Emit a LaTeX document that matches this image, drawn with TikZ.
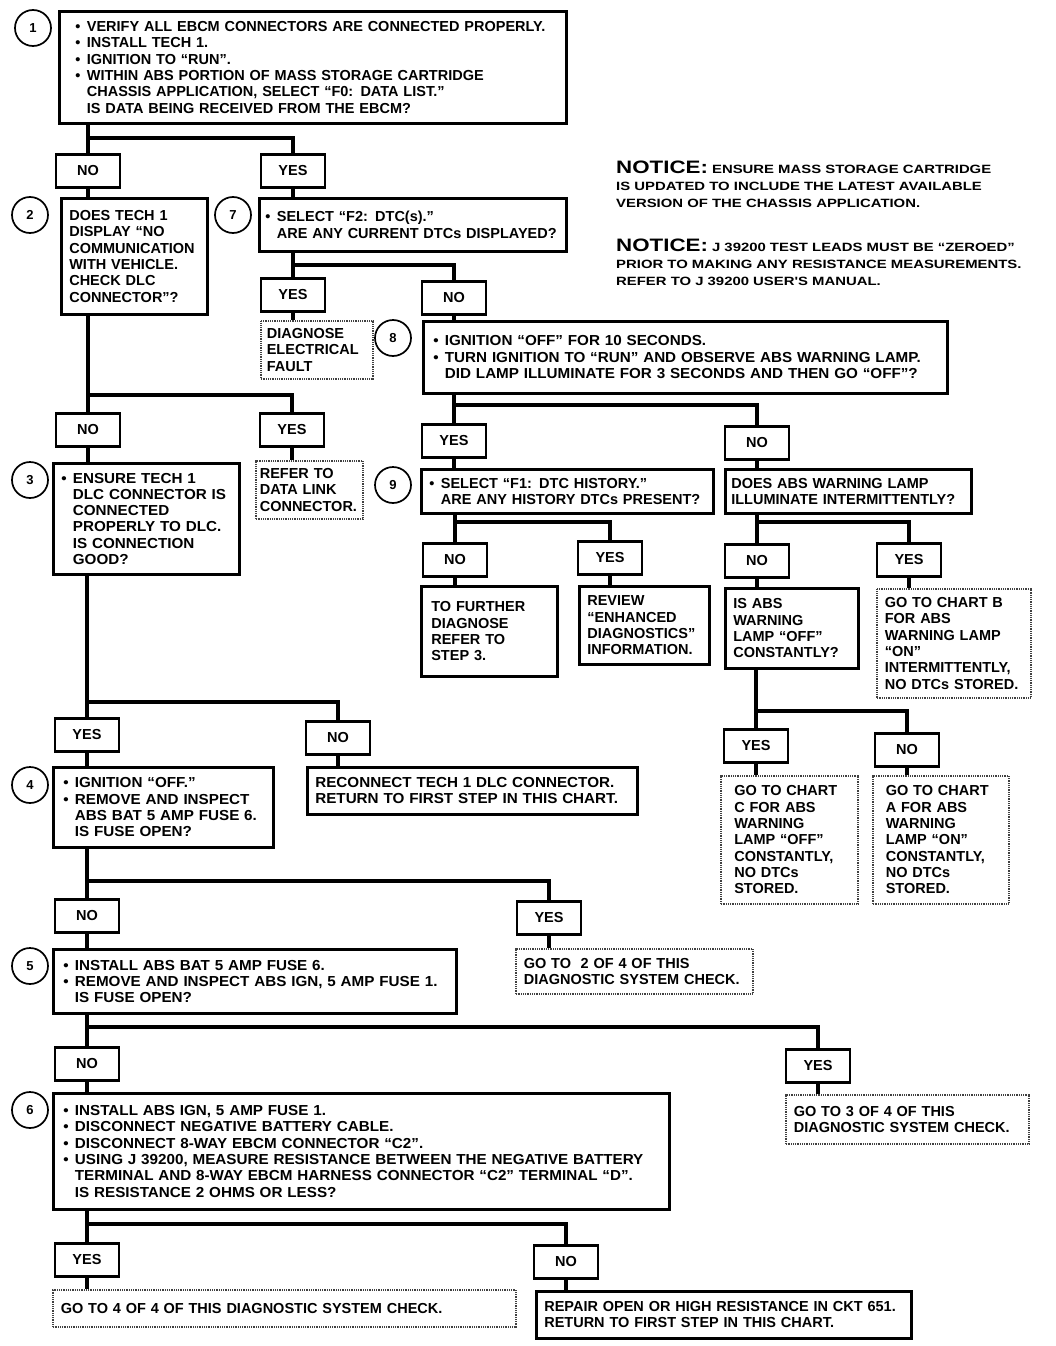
\documentclass[tikz,border=0pt]{standalone}
\usepackage{fontspec}
\setmainfont{Liberation Sans}
\newfontfamily\widefont{Liberation Sans}[FakeStretch=1.24]
\newfontfamily\widebody{Liberation Sans}[FakeStretch=1.05]
\usepackage{tikz}
\newcommand\itm{\makebox[0.8em][l]{•}}
\newcommand\cont{\hspace*{0.8em}}

\begin{document}
\begin{tikzpicture}[x=1pt, y=-1pt,
    stepbox/.style={draw, line width=2.6pt, fill=white, anchor=north west, align=left,
      inner xsep=8pt, inner ysep=3pt, font=\fontsize{14.5}{16.3}\selectfont\bfseries},
    widebox/.style={stepbox, font=\widebody\fontsize{14.5}{16.3}\selectfont\bfseries},
    resbox/.style={stepbox, line width=1.6pt, draw=black!75, dash pattern=on 1pt off 0.8pt},
    answer/.style={draw, line width=2.6pt, fill=white, anchor=north, minimum width=64pt,
      minimum height=33pt, inner sep=0pt, font=\fontsize{14.5}{16}\selectfont\bfseries},
    stepnum/.style={draw, circle, line width=1.7pt, minimum size=36pt, inner sep=0pt,
      font=\fontsize{13}{13}\selectfont\bfseries},
    conn/.style={line width=4.6pt}]
  \useasboundingbox (0,0) rectangle (1056,1346);

  % step numbers
  \node[stepnum] (c1) at (33,28) {1};
  \node[stepnum] (c2) at (30,215) {2};
  \node[stepnum] (c7) at (233,215) {7};
  \node[stepnum] (c8) at (393,338) {8};
  \node[stepnum] (c9) at (393,485) {9};
  \node[stepnum] (c3) at (30,480) {3};
  \node[stepnum] (c4) at (30,785) {4};
  \node[stepnum] (c5) at (30,966) {5};
  \node[stepnum] (c6) at (30,1110) {6};

  % notices
  \node[anchor=north west, align=left, inner sep=0pt, font=\widefont\fontsize{12}{17}\selectfont\bfseries] (note1) at (616,161)
    {{\fontsize{18}{17}\selectfont NOTICE:} ENSURE MASS STORAGE CARTRIDGE\\
     IS UPDATED TO INCLUDE THE LATEST AVAILABLE\\
     VERSION OF THE CHASSIS APPLICATION.};
  \node[anchor=north west, align=left, inner sep=0pt, font=\widefont\fontsize{12}{17}\selectfont\bfseries] (note2) at (616,239)
    {{\fontsize{18}{17}\selectfont NOTICE:} J 39200 TEST LEADS MUST BE “ZEROED”\\
     PRIOR TO MAKING ANY RESISTANCE MEASUREMENTS.\\
     REFER TO J 39200 USER'S MANUAL.};

  % question boxes
  \node[stepbox, inner xsep=16pt, text width=475pt, minimum height=112pt] (s1) at (58,10)
    {\itm VERIFY ALL EBCM CONNECTORS ARE CONNECTED PROPERLY.\\
     \itm INSTALL TECH 1.\\
     \itm IGNITION TO “RUN”.\\
     \itm WITHIN ABS PORTION OF MASS STORAGE CARTRIDGE\\
     \cont CHASSIS APPLICATION, SELECT “F0: DATA LIST.”\\
     \cont IS DATA BEING RECEIVED FROM THE EBCM?};
  \node[stepbox, text width=130pt, minimum height=116pt] (s2) at (60,197)
    {DOES TECH 1\\ DISPLAY “NO\\ COMMUNICATION\\ WITH VEHICLE.\\ CHECK DLC\\ CONNECTOR”?};
  \node[stepbox, inner xsep=6pt, text width=295pt, minimum height=53pt] (s7) at (258,197)
    {\itm SELECT “F2: DTC(s).”\\ \cont ARE ANY CURRENT DTCs DISPLAYED?};
  \node[widebox, inner xsep=10pt, text width=504pt, minimum height=72pt] (s8) at (422,320)
    {\itm IGNITION “OFF” FOR 10 SECONDS.\\
     \itm TURN IGNITION TO “RUN” AND OBSERVE ABS WARNING LAMP.\\
     \cont DID LAMP ILLUMINATE FOR 3 SECONDS AND THEN GO “OFF”?};
  \node[stepbox, text width=276pt, minimum height=44pt] (s9) at (420,468)
    {\itm SELECT “F1: DTC HISTORY.”\\ \cont ARE ANY HISTORY DTCs PRESENT?};
  \node[stepbox, inner xsep=6pt, text width=234pt, minimum height=44pt] (s9b) at (724,468)
    {DOES ABS WARNING LAMP\\ ILLUMINATE INTERMITTENTLY?};
  \node[stepbox, text width=117pt, minimum height=80pt] (s10) at (724,587)
    {IS ABS\\ WARNING\\ LAMP “OFF”\\ CONSTANTLY?};
  \node[widebox, text width=170pt, minimum height=111pt] (s3) at (52,462)
    {\itm ENSURE TECH 1\\ \cont DLC CONNECTOR IS\\ \cont CONNECTED\\ \cont PROPERLY TO DLC.\\
     \cont IS CONNECTION\\ \cont GOOD?};
  \node[widebox, inner xsep=10pt, text width=200pt, minimum height=80pt] (s4) at (52,766)
    {\itm IGNITION “OFF.”\\ \itm REMOVE AND INSPECT\\ \cont ABS BAT 5 AMP FUSE 6.\\
     \cont IS FUSE OPEN?};
  \node[widebox, inner xsep=10pt, text width=383pt, minimum height=64pt] (s5) at (52,948)
    {\itm INSTALL ABS BAT 5 AMP FUSE 6.\\
     \itm REMOVE AND INSPECT ABS IGN, 5 AMP FUSE 1.\\
     \cont IS FUSE OPEN?};
  \node[widebox, inner xsep=10pt, text width=596pt, minimum height=116pt] (s6) at (52,1092)
    {\itm INSTALL ABS IGN, 5 AMP FUSE 1.\\
     \itm DISCONNECT NEGATIVE BATTERY CABLE.\\
     \itm DISCONNECT 8-WAY EBCM CONNECTOR “C2”.\\
     \itm USING J 39200, MEASURE RESISTANCE BETWEEN THE NEGATIVE BATTERY\\
     \cont TERMINAL AND 8-WAY EBCM HARNESS CONNECTOR “C2” TERMINAL “D”.\\
     \cont IS RESISTANCE 2 OHMS OR LESS?};

  % end boxes
  \node[resbox, inner xsep=6pt, text width=100pt, minimum height=58pt] (r7) at (260,320)
    {DIAGNOSE\\ ELECTRICAL\\ FAULT};
  \node[resbox, inner xsep=4pt, text width=99pt, minimum height=58pt] (r2) at (255,460)
    {REFER TO\\ DATA LINK\\ CONNECTOR.};
  \node[stepbox, inner xsep=10pt, text width=116pt, minimum height=90pt] (r9no) at (420,585)
    {TO FURTHER\\ DIAGNOSE\\ REFER TO\\ STEP 3.};
  \node[stepbox, text width=114pt, minimum height=78pt] (r9yes) at (578,585)
    {REVIEW\\ “ENHANCED\\ DIAGNOSTICS”\\ INFORMATION.};
  \node[resbox, text width=138pt, minimum height=109pt] (r10) at (876,588)
    {GO TO CHART B\\ FOR ABS\\ WARNING LAMP\\ “ON”\\ INTERMITTENTLY,\\ NO DTCs STORED.};
  \node[resbox, inner xsep=13.5pt, text width=110pt, minimum height=128pt] (rC) at (720,775)
    {GO TO CHART\\ C FOR ABS\\ WARNING\\ LAMP “OFF”\\ CONSTANTLY,\\ NO DTCs\\ STORED.};
  \node[resbox, inner xsep=13pt, text width=110pt, minimum height=128pt] (rA) at (872,775)
    {GO TO CHART\\ A FOR ABS\\ WARNING\\ LAMP “ON”\\ CONSTANTLY,\\ NO DTCs\\ STORED.};
  \node[widebox, text width=314pt, minimum height=47pt] (r3) at (306,766)
    {RECONNECT TECH 1 DLC CONNECTOR.\\ RETURN TO FIRST STEP IN THIS CHART.};
  \node[resbox, text width=221pt, minimum height=45pt] (r4) at (515,948)
    {GO TO \ 2 OF 4 OF THIS\\ DIAGNOSTIC SYSTEM CHECK.};
  \node[resbox, text width=227pt, minimum height=49pt] (r5) at (785,1094)
    {GO TO 3 OF 4 OF THIS\\ DIAGNOSTIC SYSTEM CHECK.};
  \node[resbox, text width=447pt, minimum height=37pt] (r6yes) at (52,1289)
    {GO TO 4 OF 4 OF THIS DIAGNOSTIC SYSTEM CHECK.};
  \node[stepbox, text width=359pt, minimum height=47pt] (r6no) at (535,1290)
    {REPAIR OPEN OR HIGH RESISTANCE IN CKT 651.\\ RETURN TO FIRST STEP IN THIS CHART.};

  % answers
  \node[answer] (a1no) at (88,153) {NO};
  \node[answer] (a1yes) at (293,153) {YES};
  \node[answer] (a2no) at (88,412) {NO};
  \node[answer] (a2yes) at (292,412) {YES};
  \node[answer] (a7yes) at (293,277) {YES};
  \node[answer] (a7no) at (454,280) {NO};
  \node[answer] (a8yes) at (454,423) {YES};
  \node[answer] (a8no) at (757,425) {NO};
  \node[answer] (a9no) at (455,542) {NO};
  \node[answer] (a9yes) at (610,540) {YES};
  \node[answer] (a9bno) at (757,543) {NO};
  \node[answer] (a9byes) at (909,542) {YES};
  \node[answer] (a10yes) at (756,728) {YES};
  \node[answer] (a10no) at (907,732) {NO};
  \node[answer] (a3yes) at (87,717) {YES};
  \node[answer] (a3no) at (338,720) {NO};
  \node[answer] (a4no) at (87,898) {NO};
  \node[answer] (a4yes) at (549,900) {YES};
  \node[answer] (a5no) at (87,1046) {NO};
  \node[answer] (a5yes) at (818,1048) {YES};
  \node[answer] (a6yes) at (87,1242) {YES};
  \node[answer] (a6no) at (566,1244) {NO};

  % branch points
  \coordinate (j1) at (0,138);
  \coordinate (j2) at (0,395);
  \coordinate (j7) at (0,265);
  \coordinate (j8) at (0,405);
  \coordinate (j9) at (0,522);
  \coordinate (j9b) at (0,522);
  \coordinate (j10) at (0,711);
  \coordinate (j3) at (0,702);
  \coordinate (j4) at (0,881);
  \coordinate (j5) at (0,1027);
  \coordinate (j6) at (0,1224);

  % connectors
  \draw[conn] (s1.south -| a1no) -- (a1no.north);
  \draw[conn] (a1no |- j1) -| (a1yes.north);
  \draw[conn] (a1no.south) -- (a1no.south |- s2.north);
  \draw[conn] (a1yes.south) -- (a1yes.south |- s7.north);

  \draw[conn] (s2.south -| a2no) -- (a2no.north);
  \draw[conn] (a2no |- j2) -| (a2yes.north);
  \draw[conn] (a2no.south) -- (a2no.south |- s3.north);
  \draw[conn] (a2yes.south) -- (a2yes.south |- r2.north);

  \draw[conn] (s7.south -| a7yes) -- (a7yes.north);
  \draw[conn] (a7yes |- j7) -| (a7no.north);
  \draw[conn] (a7yes.south) -- (a7yes.south |- r7.north);
  \draw[conn] (a7no.south) -- (a7no.south |- s8.north);

  \draw[conn] (s8.south -| a8yes) -- (a8yes.north);
  \draw[conn] (a8yes |- j8) -| (a8no.north);
  \draw[conn] (a8yes.south) -- (a8yes.south |- s9.north);
  \draw[conn] (a8no.south) -- (a8no.south |- s9b.north);

  \draw[conn] (s9.south -| a9no) -- (a9no.north);
  \draw[conn] (a9no |- j9) -| (a9yes.north);
  \draw[conn] (a9no.south) -- (a9no.south |- r9no.north);
  \draw[conn] (a9yes.south) -- (a9yes.south |- r9yes.north);

  \draw[conn] (s9b.south -| a9bno) -- (a9bno.north);
  \draw[conn] (a9bno |- j9b) -| (a9byes.north);
  \draw[conn] (a9bno.south) -- (a9bno.south |- s10.north);
  \draw[conn] (a9byes.south) -- (a9byes.south |- r10.north);

  \draw[conn] (s10.south -| a10yes) -- (a10yes.north);
  \draw[conn] (a10yes |- j10) -| (a10no.north);
  \draw[conn] (a10yes.south) -- (a10yes.south |- rC.north);
  \draw[conn] (a10no.south) -- (a10no.south |- rA.north);

  \draw[conn] (s3.south -| a3yes) -- (a3yes.north);
  \draw[conn] (a3yes |- j3) -| (a3no.north);
  \draw[conn] (a3yes.south) -- (a3yes.south |- s4.north);
  \draw[conn] (a3no.south) -- (a3no.south |- r3.north);

  \draw[conn] (s4.south -| a4no) -- (a4no.north);
  \draw[conn] (a4no |- j4) -| (a4yes.north);
  \draw[conn] (a4no.south) -- (a4no.south |- s5.north);
  \draw[conn] (a4yes.south) -- (a4yes.south |- r4.north);

  \draw[conn] (s5.south -| a5no) -- (a5no.north);
  \draw[conn] (a5no |- j5) -| (a5yes.north);
  \draw[conn] (a5no.south) -- (a5no.south |- s6.north);
  \draw[conn] (a5yes.south) -- (a5yes.south |- r5.north);

  \draw[conn] (s6.south -| a6yes) -- (a6yes.north);
  \draw[conn] (a6yes |- j6) -| (a6no.north);
  \draw[conn] (a6yes.south) -- (a6yes.south |- r6yes.north);
  \draw[conn] (a6no.south) -- (a6no.south |- r6no.north);
\end{tikzpicture}
\end{document}
